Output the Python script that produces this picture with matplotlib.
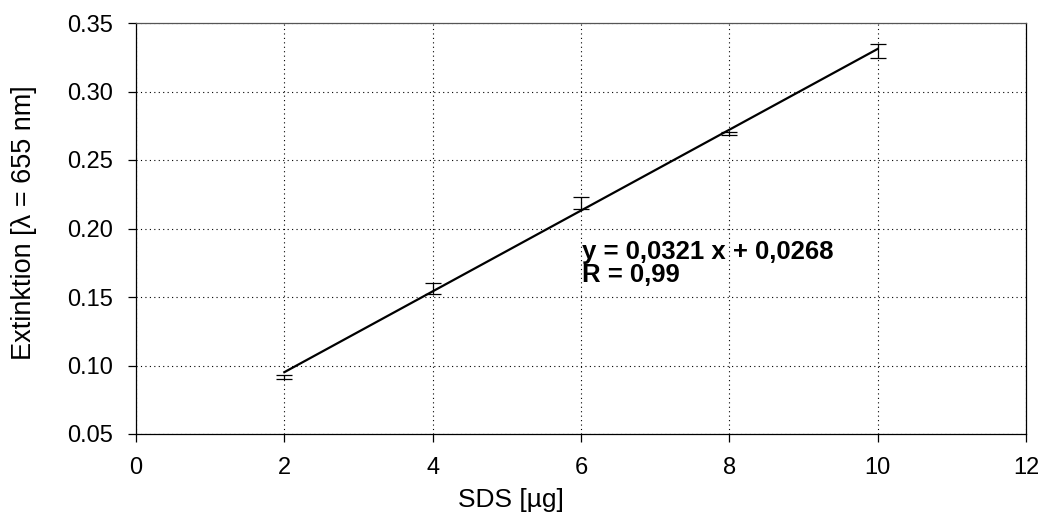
import numpy as np
import matplotlib
matplotlib.use("Agg")
import matplotlib.pyplot as plt

plt.rcParams['font.family'] = ['Liberation Sans', 'DejaVu Sans']

sds = [2, 4, 6, 8, 10]
extinktion = [0.0916, 0.1560, 0.2186, 0.2695, 0.3298]
fehler = [0.0015, 0.0040, 0.0044, 0.0010, 0.0050]
x_ticks = [0, 2, 4, 6, 8, 10, 12]
y_ticks = [0.05, 0.10, 0.15, 0.20, 0.25, 0.30, 0.35]
gleichung = "y = 0,0321 x + 0,0268"
r_text = "R = 0,99"

fig = plt.figure(figsize=(10.44, 5.18), dpi=100)
ax = fig.add_axes([136/1044, 1-434/518, (1026-136)/1044, (434-23)/518])

ax.errorbar(sds, extinktion, yerr=fehler, fmt='none', ecolor='black',
            elinewidth=0.9, capsize=5.8, capthick=0.9, zorder=3)
k, d = np.polyfit(sds, extinktion, 1)
xs = np.array([sds[0], sds[-1]])
ax.plot(xs, k*xs + d, color='black', lw=1.6, zorder=4)

ax.set_xlim(0, 12)
ax.set_ylim(0.05, 0.35)
ax.set_xticks(x_ticks)
ax.set_yticks(y_ticks)
ax.set_xticklabels([str(t) for t in x_ticks])
ax.set_yticklabels([f"{t:.2f}" for t in y_ticks])
ax.grid(True, color='black', linestyle=(0, (1, 3)), linewidth=0.8)
ax.tick_params(axis='both', labelsize=17, direction='out', width=0.9, color='black')
ax.tick_params(axis='x', length=5.5, pad=11)
ax.tick_params(axis='y', length=5.8, pad=10.5)
for s in ax.spines.values():
    s.set_linewidth(0.9)
    s.set_color('black')
ax.spines['top'].set_color('#555555')

ax.set_xlabel("SDS [µg]", fontsize=19)
ax.xaxis.set_label_coords(0.421, -0.131)
ax.set_ylabel("Extinktion [λ = 655 nm]", fontsize=19.5)
ax.yaxis.set_label_coords(-0.111, 0.515)

ax.text(6.02, 0.1612, gleichung + "\n" + r_text, fontsize=18.5, fontweight='bold',
        va='baseline', ha='left', linespacing=0.92)

fig.savefig("out.png", dpi=100)
